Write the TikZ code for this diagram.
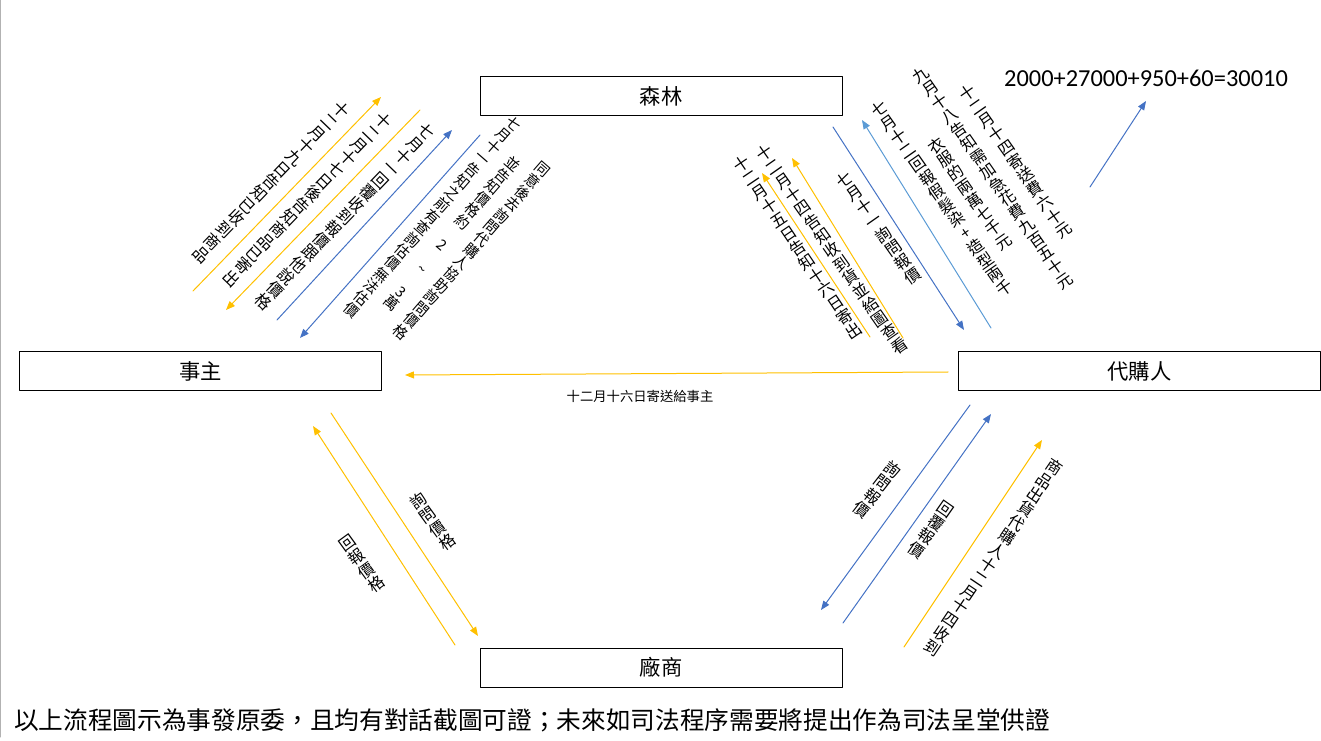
\documentclass[tikz,border=0pt]{standalone}
\usepackage{fontspec}
\usetikzlibrary{arrows.meta, positioning}
\newfontfamily\cjk{Noto Sans CJK TC}
\newfontfamily\calib{Carlito}
\definecolor{ofblue}{HTML}{4472C4}
\definecolor{oflblue}{HTML}{5B9BD5}
\definecolor{ofyellow}{HTML}{FFC000}
% vertical CJK column: one character per row, centred on the axis
\ExplSyntaxOn
\NewDocumentCommand\vcol{m}{
  \ensuremath{\vcenter{\hbox{\vbox{\offinterlineskip
    \tl_map_inline:nn {#1}
      { \hbox_to_wd:nn {1em} { \hss \rule[-.17em]{0pt}{1.05em} ##1 \hss } }
  }}}}
}
\ExplSyntaxOff
\newcommand\side[1]{{\rotatebox{-90}{#1}}}
\tikzset{
  >={Triangle[length=6.75pt, width=5.25pt]},
  every picture/.style={line cap=round, line join=round, font=\cjk},
  box/.style={draw, line width=0.75pt, inner sep=0pt, minimum width=271.5pt,
    minimum height=29.25pt, font=\cjk\fontsize{16}{19}\selectfont},
  flow/.style={->, line width=0.75pt},
  vlbl/.style={rotate=#1, inner sep=0pt, font=\cjk\fontsize{12}{14}\selectfont},
}
\begin{document}
\begin{tikzpicture}[x=0.75pt, y=-0.75pt]
  \useasboundingbox (0,0) rectangle (1321,741);
  \draw[gray!60, line width=0.75pt] (0.5,0) -- (0.5,737);
  % ---------- the four parties
  \node[box] (forest) at (661,96.5) {森林};
  \node[box] (client) at (200.5,371.5) {事主};
  \node[box] (agent) at (1139.5,371.5) {代購人};
  \node[box] (vendor) at (661,667.5) {廠商};
  % ---------- messages: name/colour/start/end
  \foreach \n/\col/\xa/\ya/\xb/\yb in {
      tlA/ofyellow/193/291/381/97, tlB/ofyellow/420/110/226/310,
      tlC/ofblue/277/320/452/130, tlD/ofblue/480/135/300/338,
      trA/ofyellow/903/338/792/158, trB/ofyellow/870/337/762/173,
      trC/ofblue/833/127/964/330, trD/oflblue/991/328/862/120,
      sum/ofblue/1090/187/1146/101, mid/ofyellow/948/372/405/375,
      blA/ofyellow/455/645/313/426, blB/ofyellow/331/413/478/636,
      brA/ofblue/970/405/821/610, brB/ofblue/843/623/991/414,
      brC/ofyellow/904/647/1042/440}{
    \coordinate (\n-s) at (\xa,\ya);
    \coordinate (\n-e) at (\xb,\yb);
    \draw[flow, \col] (\n-s) -- (\n-e);
  }
  % ---------- client <-> forest
  \node[vlbl=-44] (tlA-l) at (271,182) {\vcol{十二月十九日告知已收到商品}};
  \node[vlbl=-44] (tlB-l) at (307,200) {\vcol{十二月十七日後告知商品已寄出}};
  \node[vlbl=-44] (tlC-l) at (345,217) {\vcol{七月十一回覆收到報價跟他說價格}};
  \node[vlbl=-41, font=\cjk\fontsize{11}{13}\selectfont] (tlD-l) at (452,234)
    {\vcol{七月十一告知之前有查詢估價無法估價}\hspace{8.5pt}%
     \vcol{並告知價格約\side{2}\side{\textasciitilde}\side{3}萬}\hspace{8.5pt}%
     \vcol{同意後去詢問代購人協助詢問價格}};
  % ---------- forest <-> agent
  \node[vlbl=34] (trB-l) at (798,248) {\vcol{十二月十五日告知十六日寄出}};
  \node[vlbl=35] (trA-l) at (832,250) {\vcol{十二月十四告知收到貨並給圖查看}};
  \node[vlbl=35] (trC-l) at (879,228) {\vcol{七月十一詢問報價}};
  \node[vlbl=35] (trD-l) at (942,199) {\vcol{七月十二回報假髮染+造型兩千}};
  \node[vlbl=35] (sum-l) at (993,178)
    {\vcol{衣服的兩萬七千元}\hspace{9pt}%
     \vcol{九月十八告知需加急花費九百五十元}\hspace{9pt}%
     \vcol{十二月十四寄送費六十元}};
  \node[font=\calib\fontsize{18.3}{21}\selectfont, inner sep=0pt] (sum-t) at (1146,78)
    {2000+27000+950+60=30010};
  % ---------- agent -> client
  \node[font=\cjk\fontsize{10}{12}\selectfont, inner sep=0pt] (mid-l) at (640,396)
    {十二月十六日寄送給事主};
  % ---------- vendor
  \node[vlbl=36] (blB-l) at (433,522) {\vcol{詢問價格}};
  \node[vlbl=36] (blA-l) at (362,564) {\vcol{回報價格}};
  \node[vlbl=-38] (brA-l) at (877,490) {\vcol{詢問報價}};
  \node[vlbl=-35] (brB-l) at (931,530) {\vcol{回覆報價}};
  \node[vlbl=-34] (brC-l) at (993,558) {\vcol{商品出貨代購人十二月十四收到}};
  % ---------- note
  \node[anchor=west, inner sep=0pt, font=\cjk\fontsize{18.5}{22}\selectfont] (note) at (14,720)
    {以上流程圖示為事發原委，且均有對話截圖可證；未來如司法程序需要將提出作為司法呈堂供證};
\end{tikzpicture}
\end{document}
